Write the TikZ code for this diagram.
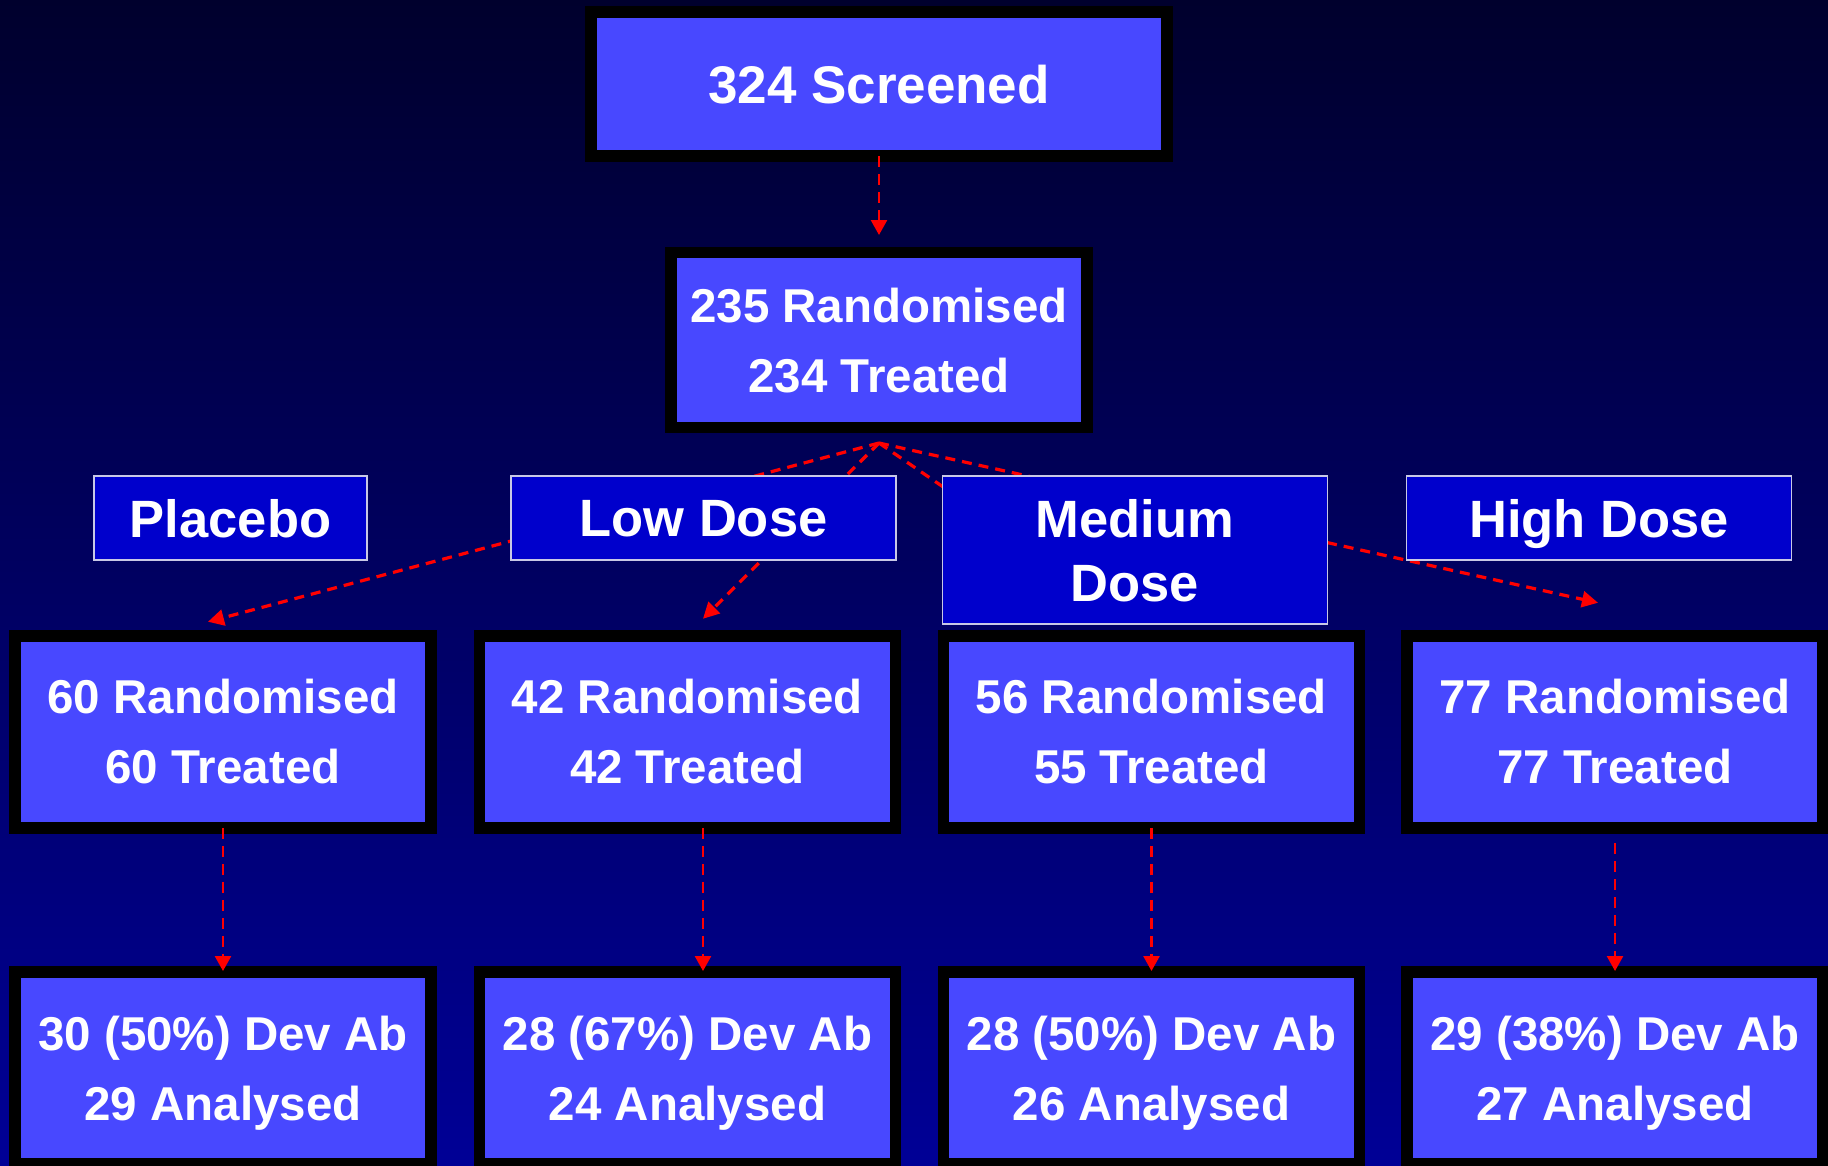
\documentclass[tikz,border=0pt]{standalone}
\usepackage{fontspec}
\setmainfont{Liberation Sans}
\usetikzlibrary{arrows.meta,calc}
\definecolor{bgtop}{RGB}{0,0,45}
\definecolor{bgbot}{RGB}{0,0,150}
\definecolor{boxblue}{RGB}{72,72,255}
\definecolor{lblblue}{RGB}{0,0,204}
\definecolor{lbledge}{RGB}{200,200,230}
\begin{document}
\begin{tikzpicture}[x=1pt,y=-1pt,
 mainbox/.style={draw=black,fill=boxblue,line width=11.5pt,inner sep=0pt,outer sep=0pt,
   text=white,align=center,text depth=0pt,font=\fontsize{47.5}{70}\selectfont\bfseries},
 rowbox/.style={mainbox,minimum width=416pt,minimum height=192pt},
 lblbox/.style={draw=lbledge,fill=lblblue,line width=1.8pt,inner sep=0pt,outer sep=0pt,
   text=white,align=center,text depth=0pt,font=\fontsize{52.5}{64}\selectfont\bfseries},
 diag/.style={draw=red,line width=3.2pt,dash pattern=on 10pt off 7pt,
   -{Triangle[length=16pt,width=16pt]}},
 vert/.style={draw=red,line width=2.5pt,dash pattern=on 11pt off 7pt,
   -{Triangle[length=15pt,width=16pt]}}]
\path[use as bounding box] (0,0) rectangle (1828,1165);
\clip (0,0) rectangle (1828,1165);
\shade[top color=bgtop,bottom color=bgbot] (0,0) rectangle (1828,1165);

% main boxes
\node[mainbox,line width=12pt,minimum width=576pt,minimum height=144pt,
  font=\fontsize{53}{64}\selectfont\bfseries] (scr) at (879,84) {324 Screened};
\node[mainbox,minimum width=416pt,minimum height=175pt] (rand) at (879,340)
  {235 Randomised\\234 Treated};

\node[rowbox] (r1) at (223,731.75) {60 Randomised\\60 Treated};
\node[rowbox] (r2) at (687.5,731.75) {42 Randomised\\42 Treated};
\node[rowbox] (r3) at (1151.5,731.75) {56 Randomised\\55 Treated};
\node[rowbox] (r4) at (1615,731.75) {77 Randomised\\77 Treated};

\node[rowbox] (b1) at (223,1068) {30 (50\%) Dev Ab\\29 Analysed};
\node[rowbox] (b2) at (687.5,1068) {28 (67\%) Dev Ab\\24 Analysed};
\node[rowbox] (b3) at (1151.5,1068) {28 (50\%) Dev Ab\\26 Analysed};
\node[rowbox] (b4) at (1615,1068) {29 (38\%) Dev Ab\\27 Analysed};

% diagonal connectors (behind the group labels)
\coordinate (hub) at ([yshift=-15.5pt]rand.south);
\coordinate (tp) at ([xshift=-15pt,yshift=14pt]r1.north);
\coordinate (tl) at ([xshift=15.5pt,yshift=17pt]r2.north);
\coordinate (tm) at ([xshift=-11.5pt,yshift=14pt]r3.north);
\coordinate (th) at ([xshift=-17pt,yshift=33pt]r4.north);
\draw[diag] (hub) -- (tp);
\draw[diag] (hub) -- (tl);
\draw[diag] (hub) -- (tm);
\draw[diag] (hub) -- (th);

% group labels
\node[lblbox,minimum width=273pt,minimum height=84pt] (lp) at (230.5,518) {Placebo};
\node[lblbox,minimum width=385pt,minimum height=84pt] (ll) at (703.5,518) {Low Dose};
\node[lblbox,minimum width=385pt,minimum height=148pt] (lm) at (1135,550) {Medium\\Dose};
\node[lblbox,minimum width=385pt,minimum height=84pt] (lh) at (1599,518) {High Dose};

% vertical connectors
\draw[vert] (scr.south) -- ([yshift=17.5pt]rand.north);
\draw[vert] (r1.south) -- ([yshift=1pt]b1.north);
\draw[vert] ([xshift=15.5pt]r2.south) -- ([xshift=15.5pt,yshift=1pt]b2.north);
\draw[vert] (r3.south) -- ([yshift=1pt]b3.north);
\draw[vert] ([yshift=-15.5pt]r4.south) -- ([yshift=1pt]b4.north);
\end{tikzpicture}
\end{document}
